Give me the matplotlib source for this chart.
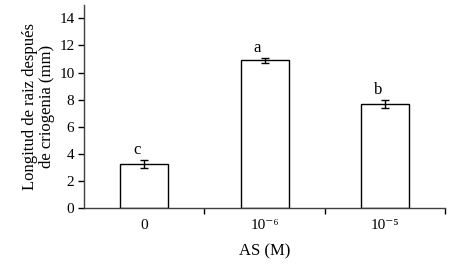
import matplotlib
matplotlib.use("Agg")
import matplotlib.pyplot as plt

plt.rcParams['font.family'] = ['Liberation Serif', 'DejaVu Serif']

# data
categories = ["0", "10\u207b\u2076", "10\u207b\u2075"]
values = [3.25, 10.9, 7.7]
errors = [0.3, 0.2, 0.3]
letters = ["c", "a", "b"]

fig = plt.figure(figsize=(4.5, 2.67), dpi=100)
ax = fig.add_axes([0.187, 0.221, 0.802, 0.761])

x = range(len(categories))
ax.bar(x, values, width=0.4, color="white", edgecolor="black", linewidth=1.0,
       yerr=errors, capsize=3, error_kw=dict(elinewidth=1.0, capthick=1.0, ecolor="black"))

for i, (v, e, s) in enumerate(zip(values, errors, letters)):
    ax.text(i - 0.06, v + e + 0.15, s, ha="center", va="bottom", fontsize=12)

ax.set_xlim(-0.5, 2.5)
ax.set_ylim(0, 15)
ax.set_yticks(range(0, 15, 2))
ax.set_xticks(list(x))
ax.set_xticklabels(categories, fontsize=11)
ax.set_xticks([0.5, 1.5, 2.5], minor=True)
ax.tick_params(axis="x", which="major", length=0, pad=8)
ax.tick_params(axis="x", which="minor", length=4, width=1.0, direction="out")
ax.tick_params(axis="y", labelsize=11, length=4, width=1.0, direction="out", pad=3)

for side in ["top", "right"]:
    ax.spines[side].set_visible(False)
for side in ["left", "bottom"]:
    ax.spines[side].set_linewidth(1.0)
    ax.spines[side].set_color("#404040")

ax.set_ylabel("Longitud de raiz después\nde criogenia (mm)", fontsize=12, labelpad=3,
              linespacing=1.1)
ax.set_xlabel("AS (M)", fontsize=12, labelpad=8)

fig.savefig("out.png", dpi=100)
